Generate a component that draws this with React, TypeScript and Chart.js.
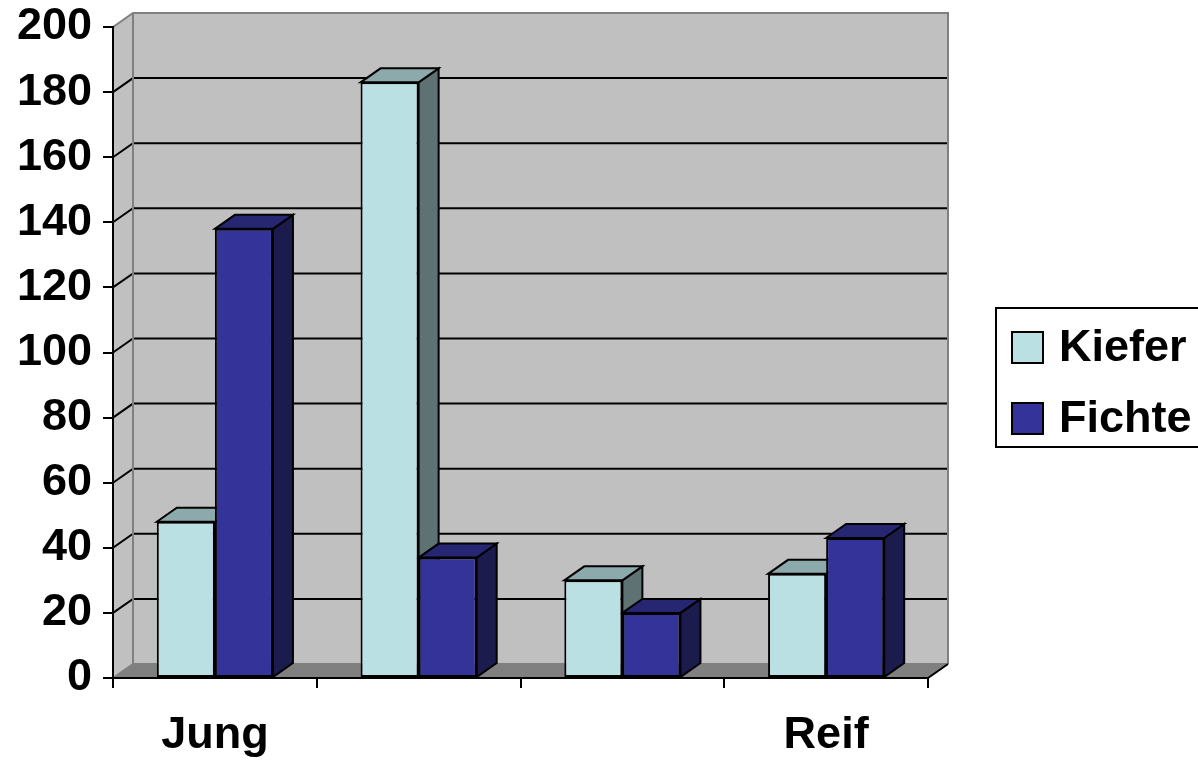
import React, { useEffect, useRef } from "react";
import { Chart, registerables } from "chart.js";

Chart.register(...registerables);

// ---- data ----
const categories = ["Jung", "", "", "Reif"];
const seriesNames = ["Kiefer", "Fichte"];
const kieferValues = [48, 183, 30, 32];
const fichteValues = [138, 37, 20, 43];
const yMin = 0;
const yMax = 200;
const yStep = 20;

// ---- styles ----
const FONT = '"Liberation Sans", Arial, Helvetica, sans-serif';
const DX = 20;
const DY = -14;
const faceColors = [
  { front: "#BBE0E3", top: "#8CA9AB", side: "#5E7173" },
  { front: "#333399", top: "#262673", side: "#1B1B4D" },
];

const wallPlugin = {
  id: "wall3d",
  beforeDraw(chart: any) {
    const { ctx, chartArea } = chart;
    const { left, right, top, bottom } = chartArea;
    const y = chart.scales.y;
    ctx.save();
    // back wall
    ctx.fillStyle = "#C0C0C0";
    ctx.fillRect(left + DX, top + DY, right - left, bottom - top);
    // side wall
    ctx.beginPath();
    ctx.moveTo(left, top);
    ctx.lineTo(left + DX, top + DY);
    ctx.lineTo(left + DX, bottom + DY);
    ctx.lineTo(left, bottom);
    ctx.closePath();
    ctx.fill();
    // floor
    ctx.fillStyle = "#808080";
    ctx.beginPath();
    ctx.moveTo(left, bottom);
    ctx.lineTo(right, bottom);
    ctx.lineTo(right + DX, bottom + DY);
    ctx.lineTo(left + DX, bottom + DY);
    ctx.closePath();
    ctx.fill();
    // gridlines on walls
    ctx.strokeStyle = "#000";
    ctx.lineWidth = 2;
    for (let v = yMin + yStep; v < yMax; v += yStep) {
      const py = y.getPixelForValue(v);
      ctx.beginPath();
      ctx.moveTo(left, py);
      ctx.lineTo(left + DX, py + DY);
      ctx.lineTo(right + DX, py + DY);
      ctx.stroke();
    }
    // wall edges
    ctx.strokeStyle = "#808080";
    ctx.lineWidth = 2;
    ctx.beginPath();
    ctx.moveTo(left, top);
    ctx.lineTo(left + DX, top + DY);
    ctx.lineTo(right + DX, top + DY);
    ctx.lineTo(right + DX, bottom + DY);
    ctx.moveTo(left + DX, top + DY);
    ctx.lineTo(left + DX, bottom + DY);
    ctx.lineTo(right + DX, bottom + DY);
    ctx.moveTo(left, bottom);
    ctx.lineTo(left + DX, bottom + DY);
    ctx.stroke();
    // floor right edge
    ctx.strokeStyle = "#000";
    ctx.beginPath();
    ctx.moveTo(right, bottom);
    ctx.lineTo(right + DX, bottom + DY);
    ctx.stroke();
    ctx.restore();
  },
  beforeDatasetsDraw(chart: any) {
    const { ctx } = chart;
    ctx.save();
    ctx.strokeStyle = "#000";
    ctx.lineWidth = 2;
    ctx.lineJoin = "miter";
    chart.data.datasets.forEach((ds: any, i: number) => {
      const meta = chart.getDatasetMeta(i);
      const c = faceColors[i];
      meta.data.forEach((el: any) => {
        const l = el.x - el.width / 2;
        const r = el.x + el.width / 2;
        const t = el.y;
        const b = el.base;
        // side
        ctx.fillStyle = c.side;
        ctx.beginPath();
        ctx.moveTo(r, t);
        ctx.lineTo(r + DX, t + DY);
        ctx.lineTo(r + DX, b + DY);
        ctx.lineTo(r, b);
        ctx.closePath();
        ctx.fill();
        ctx.stroke();
        // top
        ctx.fillStyle = c.top;
        ctx.beginPath();
        ctx.moveTo(l, t);
        ctx.lineTo(l + DX, t + DY);
        ctx.lineTo(r + DX, t + DY);
        ctx.lineTo(r, t);
        ctx.closePath();
        ctx.fill();
        ctx.stroke();
      });
    });
    ctx.restore();
  },
  afterDraw(chart: any) {
    const { ctx } = chart;
    ctx.save();
    // legend box
    const bx = 996;
    const by = 308;
    ctx.strokeStyle = "#000";
    ctx.lineWidth = 2;
    ctx.strokeRect(bx, by, 260, 139);
    ctx.font = `bold 45px ${FONT}`;
    ctx.textBaseline = "middle";
    ctx.textAlign = "left";
    chart.data.datasets.forEach((ds: any, i: number) => {
      const sy = by + 24 + i * 71;
      ctx.fillStyle = ds.backgroundColor;
      ctx.fillRect(1012, sy, 31, 31);
      ctx.strokeRect(1012, sy, 31, 31);
      ctx.fillStyle = "#000";
      ctx.fillText(ds.label, 1059, sy + 17);
    });
    ctx.restore();
  },
};

export default function App() {
  const ref = useRef<HTMLCanvasElement | null>(null);
  useEffect(() => {
    if (!ref.current) return;
    const tickFont = { family: FONT, size: 45, weight: "bold" as const };
    const chart = new Chart(ref.current, {
      type: "bar",
      data: {
        labels: categories,
        datasets: [
          {
            label: seriesNames[0],
            data: kieferValues,
            backgroundColor: faceColors[0].front,
            borderColor: "#000",
            borderWidth: 2,
            borderSkipped: false,
          },
          {
            label: seriesNames[1],
            data: fichteValues,
            backgroundColor: faceColors[1].front,
            borderColor: "#000",
            borderWidth: 2,
            borderSkipped: false,
          },
        ],
      },
      options: {
        responsive: false,
        animation: false,
        devicePixelRatio: 1,
        layout: { padding: { left: 0, right: 270, top: 27, bottom: 0 } },
        plugins: {
          legend: { display: false },
          tooltip: { enabled: false },
        },
        datasets: {
          bar: { categoryPercentage: 0.57, barPercentage: 1 },
        },
        scales: {
          x: {
            grid: {
              offset: true,
              drawOnChartArea: false,
              drawTicks: true,
              tickLength: 10,
              color: "#000",
              tickColor: "#000",
              tickWidth: 2,
              lineWidth: 2,
            },
            border: { display: true, color: "#000", width: 2 },
            ticks: { font: tickFont, color: "#000", padding: 21, maxRotation: 0, autoSkip: false },
            afterFit: (s: any) => {
              s.height = 82;
              s.paddingLeft = 0;
              s.paddingRight = 0;
            },
          },
          y: {
            min: yMin,
            max: yMax,
            ticks: { stepSize: yStep, font: tickFont, color: "#000", padding: 11 },
            grid: {
              drawOnChartArea: false,
              drawTicks: true,
              tickLength: 10,
              color: "#000",
              tickColor: "#000",
              tickWidth: 2,
              lineWidth: 2,
            },
            border: { display: true, color: "#000", width: 2 },
            afterFit: (s: any) => {
              s.width = 113;
              s.paddingTop = 0;
              s.paddingBottom = 0;
            },
          },
        },
      },
      plugins: [wallPlugin],
    });
    return () => chart.destroy();
  }, []);
  return (
    <div style={{ position: "fixed", left: 0, top: 0, width: 1198, height: 760, background: "#fff" }}>
      <canvas ref={ref} width={1198} height={760} style={{ display: "block", width: 1198, height: 760 }} />
    </div>
  );
}
